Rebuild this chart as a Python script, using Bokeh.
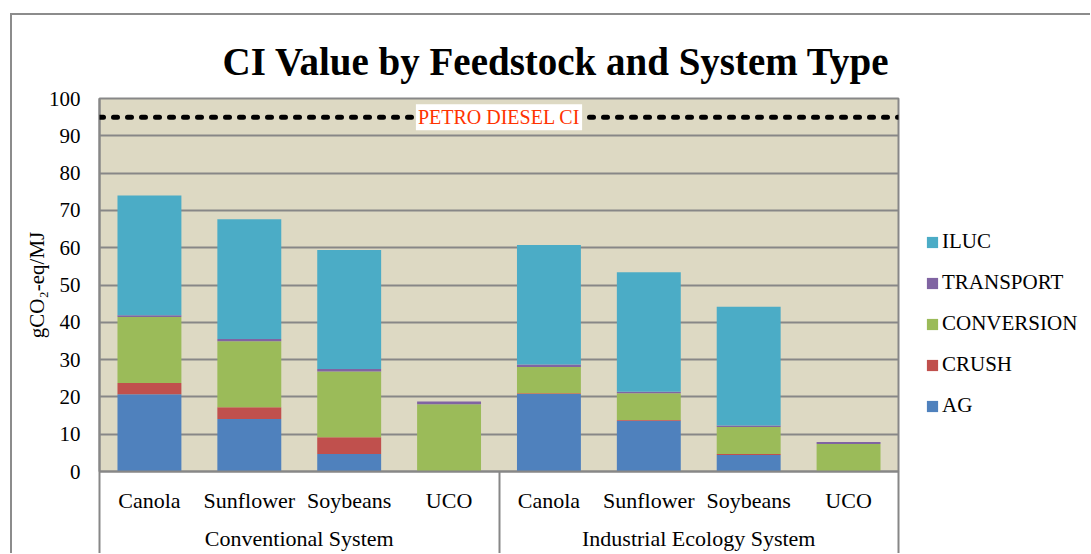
from bokeh.plotting import figure
from bokeh.layouts import row
from bokeh.models import (FactorRange, Range1d, LinearAxis, CategoricalAxis, FixedTicker,
                          Legend, LegendItem, Span, Label, ColumnDataSource)
from bokeh.embed import file_html
from bokeh.resources import INLINE

# ---------------- data ----------------
systems = ["Conventional System", "Industrial Ecology System"]
feedstocks = ["Canola", "Sunflower", "Soybeans", "UCO"]
ag = [20.7, 14.1, 4.7, 0.0, 20.8, 13.6, 4.4, 0.0]
crush = [3.0, 3.1, 4.5, 0.0, 0.2, 0.2, 0.3, 0.0]
conversion = [17.7, 17.7, 17.6, 18.0, 7.0, 7.2, 7.2, 7.4]
transport = [0.5, 0.6, 0.7, 0.8, 0.7, 0.4, 0.4, 0.5]
iluc = [32.1, 32.1, 31.9, 0.0, 32.0, 32.0, 31.9, 0.0]
petro_diesel_ci = 95
y_ticks = [0, 10, 20, 30, 40, 50, 60, 70, 80, 90, 100]

series = ["AG", "CRUSH", "CONVERSION", "TRANSPORT", "ILUC"]
colors = ["#4F81BD", "#C0504D", "#9BBB59", "#8064A2", "#4BACC6"]

factors = [(s, f) for s in systems for f in feedstocks]
source = ColumnDataSource(dict(x=factors, AG=ag, CRUSH=crush, CONVERSION=conversion,
                               TRANSPORT=transport, ILUC=iluc))

FONT = "Liberation Serif"
GRAY = "#878787"

H = 538
p = figure(width=888, height=H,
           x_range=FactorRange(*factors, factor_padding=0, group_padding=0,
                               subgroup_padding=0, range_padding=0),
           y_range=Range1d(0, 100), x_axis_location=None,
           output_backend="svg", toolbar_location=None,
           title="CI Value by Feedstock and System Type")
p.min_border_left = 87
p.min_border_top = 83
p.min_border_right = 2
p.min_border_bottom = 82
p.background_fill_color = "#DDD9C3"
p.border_fill_color = "white"
p.outline_line_color = GRAY
p.outline_line_width = 2
p.xgrid.grid_line_color = None

# title
p.title.text_font = FONT
p.title.text_font_size = "39px"
p.title.text_font_style = "bold"
p.title.text_color = "black"
p.title.align = "left"
p.title.offset = 123
p.title.standoff = 31

# bars
renderers = p.vbar_stack(series, x="x", width=0.64, color=colors, line_color=None, source=source)

# y axis
yt = FixedTicker(ticks=y_ticks)
p.yaxis.ticker = yt
p.yaxis.axis_label = "gCO\u2082-eq/MJ"
p.yaxis.axis_label_text_font = FONT
p.yaxis.axis_label_text_font_size = "21px"
p.yaxis.axis_label_text_font_style = "normal"
p.yaxis.axis_label_text_color = "black"
p.yaxis.axis_label_standoff = -3
p.yaxis.major_label_text_font = FONT
p.yaxis.major_label_text_font_size = "21px"
p.yaxis.major_label_text_color = "black"
p.yaxis.major_label_standoff = 13
p.yaxis.major_tick_line_color = None
p.yaxis.minor_tick_line_color = None
p.yaxis.axis_line_color = GRAY
p.yaxis.axis_line_width = 2
p.ygrid.ticker = yt
p.ygrid.grid_line_color = GRAY
p.ygrid.grid_line_width = 2

# category box lines (vertical separators below the plot), at group boundaries
box_axis = LinearAxis(ticker=FixedTicker(ticks=[], minor_ticks=[0, len(feedstocks), len(factors)]),
                      axis_line_color=None, major_tick_line_color=None,
                      major_tick_in=0, major_tick_out=0,
                      minor_tick_in=-90, minor_tick_out=0,
                      minor_tick_line_color=GRAY, minor_tick_line_width=2,
                      major_label_text_font_size="0px")
p.add_layout(box_axis, "below")

cat_axis = CategoricalAxis()
cat_axis.major_label_text_font = FONT
cat_axis.major_label_text_font_size = "22px"
cat_axis.major_label_text_color = "black"
cat_axis.major_label_standoff = 10
cat_axis.major_label_orientation = "horizontal"
cat_axis.group_text_font = FONT
cat_axis.group_text_font_size = "22px"
cat_axis.group_text_font_style = "normal"
cat_axis.group_text_color = "black"
cat_axis.separator_line_color = None
cat_axis.major_tick_line_color = None
cat_axis.axis_line_color = GRAY
cat_axis.axis_line_width = 2
p.add_layout(cat_axis, "below")

# petro diesel reference line
span = Span(location=petro_diesel_ci, dimension="width", line_color="black", line_width=5,
            line_dash="4 10", line_cap="round")
p.add_layout(span)
lbl = Label(x=len(feedstocks), y=petro_diesel_ci, text="PETRO DIESEL CI", text_font=FONT,
            text_font_size="20px", text_color="#FF3300", text_align="center",
            text_baseline="middle", background_fill_color="white", padding=2)
p.add_layout(lbl)

# ---------------- legend panel (right of the plot) ----------------
# same stacked series with zero width, only so that the legend has coloured keys
pl = figure(width=190, height=H,
            x_range=FactorRange(*factors, factor_padding=0, group_padding=0,
                                subgroup_padding=0, range_padding=0),
            y_range=Range1d(1000, 1001),
            x_axis_location=None, y_axis_location=None,
            output_backend="svg", toolbar_location=None)
pl.min_border = 0
pl.outline_line_color = None
pl.background_fill_color = "white"
pl.border_fill_color = "white"
pl.grid.grid_line_color = None
key_renderers = pl.vbar_stack(series, x="x", width=0, color=colors, line_color=None,
                              source=source)
items = [LegendItem(label=s, renderers=[r]) for s, r in zip(series, key_renderers)][::-1]
legend = Legend(items=items, location=(25, 53))
legend.border_line_color = None
legend.background_fill_alpha = 0
legend.label_text_font = FONT
legend.label_text_font_size = "21px"
legend.label_text_color = "black"
legend.glyph_width = 14
legend.glyph_height = 14
legend.label_height = 14
legend.label_standoff = 3
legend.spacing = 16
legend.padding = 0
legend.margin = 0
pl.add_layout(legend)

layout = row(p, pl)
layout.margin = (13, 0, 0, 10)
layout.styles = {"border-top": "2px solid #8c8c8c", "border-left": "2px solid #8c8c8c"}

open("out.html", "w").write(file_html(layout, INLINE))
